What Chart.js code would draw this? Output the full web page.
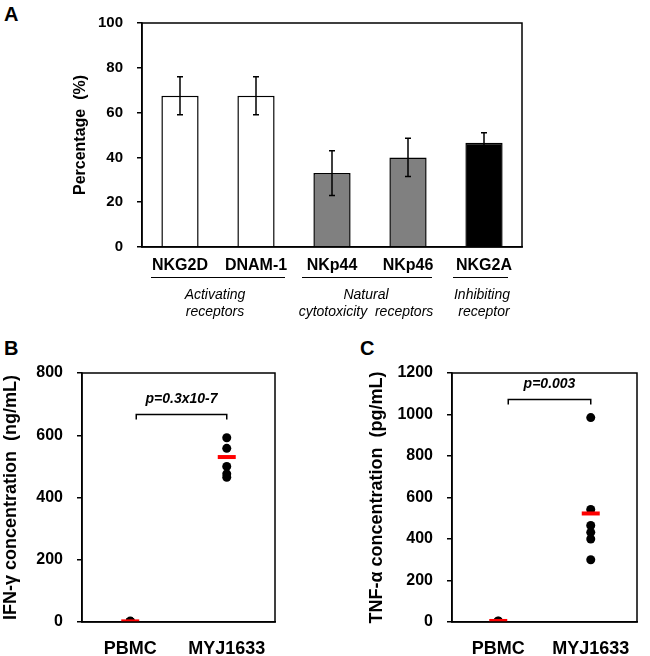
<!DOCTYPE html>
<html>
<head>
<meta charset="utf-8">
<script src="https://cdn.jsdelivr.net/npm/chart.js@4.4.0/dist/chart.umd.min.js"></script>
<style>
  body { margin: 0; background: #fff; }
  #fig { position: relative; width: 650px; height: 656px; font-family: 'Liberation Sans', Arial, sans-serif; color: #000; }
  #fig canvas { position: absolute; }
  .tag { position: absolute; font-weight: bold; font-size: 20px; line-height: 20px; }
  .grp { position: absolute; width: 200px; font-style: italic; font-size: 14px; line-height: 17px; text-align: center; white-space: pre; }
  .rule { position: absolute; height: 0; border-top: 1px solid #000; }
</style>
</head>
<body>
<div id="fig">
  <div class="tag" style="left:4px;top:4px">A</div>
  <div class="tag" style="left:4px;top:338px">B</div>
  <div class="tag" style="left:360px;top:338px">C</div>

  <canvas id="chartA" width="500" height="290" style="left:50px;top:0"></canvas>
  <canvas id="chartB" width="325" height="326" style="left:0;top:330px"></canvas>
  <canvas id="chartC" width="325" height="326" style="left:325px;top:330px"></canvas>

  <div class="rule" style="left:151px;top:277px;width:134px"></div>
  <div class="rule" style="left:302px;top:277px;width:130px"></div>
  <div class="rule" style="left:453px;top:277px;width:55px"></div>
  <div class="grp" style="left:115px;top:286px">Activating
receptors</div>
  <div class="grp" style="left:266px;top:286px">Natural
cytotoxicity  receptors</div>
  <div class="grp" style="left:382px;top:286px">Inhibiting
 receptor</div>
</div>

<script>
// Panel A data
const receptors = ['NKG2D', 'DNAM-1', 'NKp44', 'NKp46', 'NKG2A'];
const pctMean = [67.5, 67.5, 33, 40, 46.5];
const pctErr = [8.5, 8.5, 10, 8.5, 4.5];
const barColors = ['#ffffff', '#ffffff', '#808080', '#808080', '#000000'];

// Panels B and C data
const cellGroups = ['PBMC', 'MYJ1633'];
const ifnPBMC = [2, 1, 3, 2, 1];
const ifnMYJ = [592, 558, 500, 476, 465];
const ifnMean = [2, 530];
const tnfPBMC = [3, 1, 5, 2, 4, 0];
const tnfMYJ = [985, 542, 465, 432, 400, 300];
const tnfMean = [5, 523];

const FONT = "'Liberation Sans', Arial, sans-serif";
Chart.defaults.font.family = FONT;
Chart.defaults.color = '#000';

// box around the plot area
const frame = {
  id: 'frame',
  afterDraw(chart) {
    const a = chart.chartArea, ctx = chart.ctx;
    ctx.save();
    ctx.strokeStyle = '#000';
    ctx.lineWidth = 1.5;
    ctx.strokeRect(a.left, a.top, a.right - a.left, a.bottom - a.top);
    ctx.restore();
  }
};

// error bars for the bar chart
const errorBars = {
  id: 'errorBars',
  afterDatasetsDraw(chart) {
    const ctx = chart.ctx, y = chart.scales.y;
    const meta = chart.getDatasetMeta(0);
    ctx.save();
    ctx.lineWidth = 1.5;
    meta.data.forEach((bar, i) => {
      const hi = y.getPixelForValue(pctMean[i] + pctErr[i]);
      const lo = y.getPixelForValue(pctMean[i] - pctErr[i]);
      ctx.strokeStyle = '#000';
      ctx.beginPath();
      ctx.moveTo(bar.x, hi); ctx.lineTo(bar.x, lo);
      ctx.moveTo(bar.x - 3, hi); ctx.lineTo(bar.x + 3, hi);
      ctx.moveTo(bar.x - 3, lo); ctx.lineTo(bar.x + 3, lo);
      ctx.stroke();
    });
    ctx.restore();
  }
};

// significance bracket with p-value
const bracket = {
  id: 'bracket',
  afterDraw(chart, args, opts) {
    if (!opts.text) return;
    const ctx = chart.ctx, x = chart.scales.x, y = chart.scales.y;
    const x1 = x.getPixelForValue(0) + opts.inset;
    const x2 = x.getPixelForValue(1);
    const yy = Math.round(y.getPixelForValue(opts.value)) + 0.5;
    ctx.save();
    ctx.strokeStyle = '#000';
    ctx.lineWidth = 1.5;
    ctx.beginPath();
    ctx.moveTo(x1, yy + opts.drop); ctx.lineTo(x1, yy); ctx.lineTo(x2, yy); ctx.lineTo(x2, yy + opts.drop);
    ctx.stroke();
    ctx.font = 'italic bold 14px ' + FONT;
    ctx.fillStyle = '#000';
    ctx.textAlign = 'center';
    ctx.textBaseline = 'middle';
    ctx.fillText(opts.text, (x1 + x2) / 2, yy - 15);
    ctx.restore();
  }
};

new Chart(document.getElementById('chartA'), {
  type: 'bar',
  data: {
    labels: receptors,
    datasets: [{
      data: pctMean,
      backgroundColor: barColors,
      borderColor: '#000',
      borderWidth: 1.5,
      barPercentage: 0.49,
      categoryPercentage: 1
    }]
  },
  options: {
    responsive: false,
    animation: false,
    layout: { padding: { left: 0, right: 28, top: 23, bottom: 0 } },
    plugins: { legend: { display: false }, tooltip: { enabled: false } },
    scales: {
      x: {
        grid: { display: false, drawTicks: false },
        border: { color: '#000', width: 1.5 },
        ticks: { font: { size: 16, weight: 'bold' }, padding: 9, maxRotation: 0 },
        afterFit(s) { s.height = 43; }
      },
      y: {
        min: 0, max: 100,
        grid: { drawOnChartArea: false, tickLength: 5, color: '#000', lineWidth: 1.5 },
        border: { color: '#000', width: 1.5 },
        ticks: { stepSize: 20, font: { size: 15, weight: 'bold' }, padding: 14 },
        title: { display: true, text: 'Percentage  (%)', font: { size: 16, weight: 'bold' }, padding: { top: 21, bottom: 0 } },
        afterFit(s) { s.width = 92; }
      }
    }
  },
  plugins: [frame, errorBars]
});

function dotChart(id, pbmc, myj, means, yMax, yStep, yTitle, yWidth, titlePad, padRight, brk) {
  const pts = (vals, k) => vals.map(v => ({ x: cellGroups[k], y: v }));
  new Chart(document.getElementById(id), {
    type: 'scatter',
    data: {
      labels: cellGroups,
      datasets: [
        {
          data: means.map((v, k) => ({ x: cellGroups[k], y: v })),
          pointStyle: 'line', pointRadius: 9, pointBorderWidth: 4,
          borderColor: '#ff0000', backgroundColor: '#ff0000'
        },
        {
          data: pts(pbmc, 0).concat(pts(myj, 1)),
          pointRadius: 4.5, pointBorderWidth: 0,
          backgroundColor: '#000', borderColor: '#000'
        }
      ]
    },
    options: {
      responsive: false,
      animation: false,
      layout: { padding: { left: 0, right: padRight, top: 43, bottom: 0 } },
      plugins: { legend: { display: false }, tooltip: { enabled: false }, bracket: brk },
      scales: {
        x: {
          type: 'category', labels: cellGroups, offset: true,
          grid: { display: false, drawTicks: false },
          border: { color: '#000', width: 1.5 },
          ticks: { font: { size: 18, weight: 'bold' }, padding: 16 },
          afterFit(s) { s.height = 34; }
        },
        y: {
          min: 0, max: yMax,
          grid: { drawOnChartArea: false, tickLength: 5, color: '#000', lineWidth: 1.5 },
          border: { color: '#000', width: 1.5 },
          ticks: { stepSize: yStep, font: { size: 16, weight: 'bold' }, padding: 14, callback: v => String(v) },
          title: { display: true, text: yTitle, font: { size: 18, weight: 'bold' }, padding: { top: titlePad, bottom: 0 } },
          afterFit(s) { s.width = yWidth; }
        }
      }
    },
    plugins: [frame, bracket]
  });
}

dotChart('chartB', ifnPBMC, ifnMYJ, ifnMean, 800, 200, 'IFN-\u03b3 concentration  (ng/mL)', 82, 0, 50,
  { value: 669, inset: 6, drop: 5, text: 'p=0.3x10-7' });
dotChart('chartC', tnfPBMC, tnfMYJ, tnfMean, 1200, 200, 'TNF-\u03b1 concentration  (pg/mL)', 127, 41, 2,
  { value: 1075, inset: 10, drop: 5, text: 'p=0.003' });
</script>
</body>
</html>
